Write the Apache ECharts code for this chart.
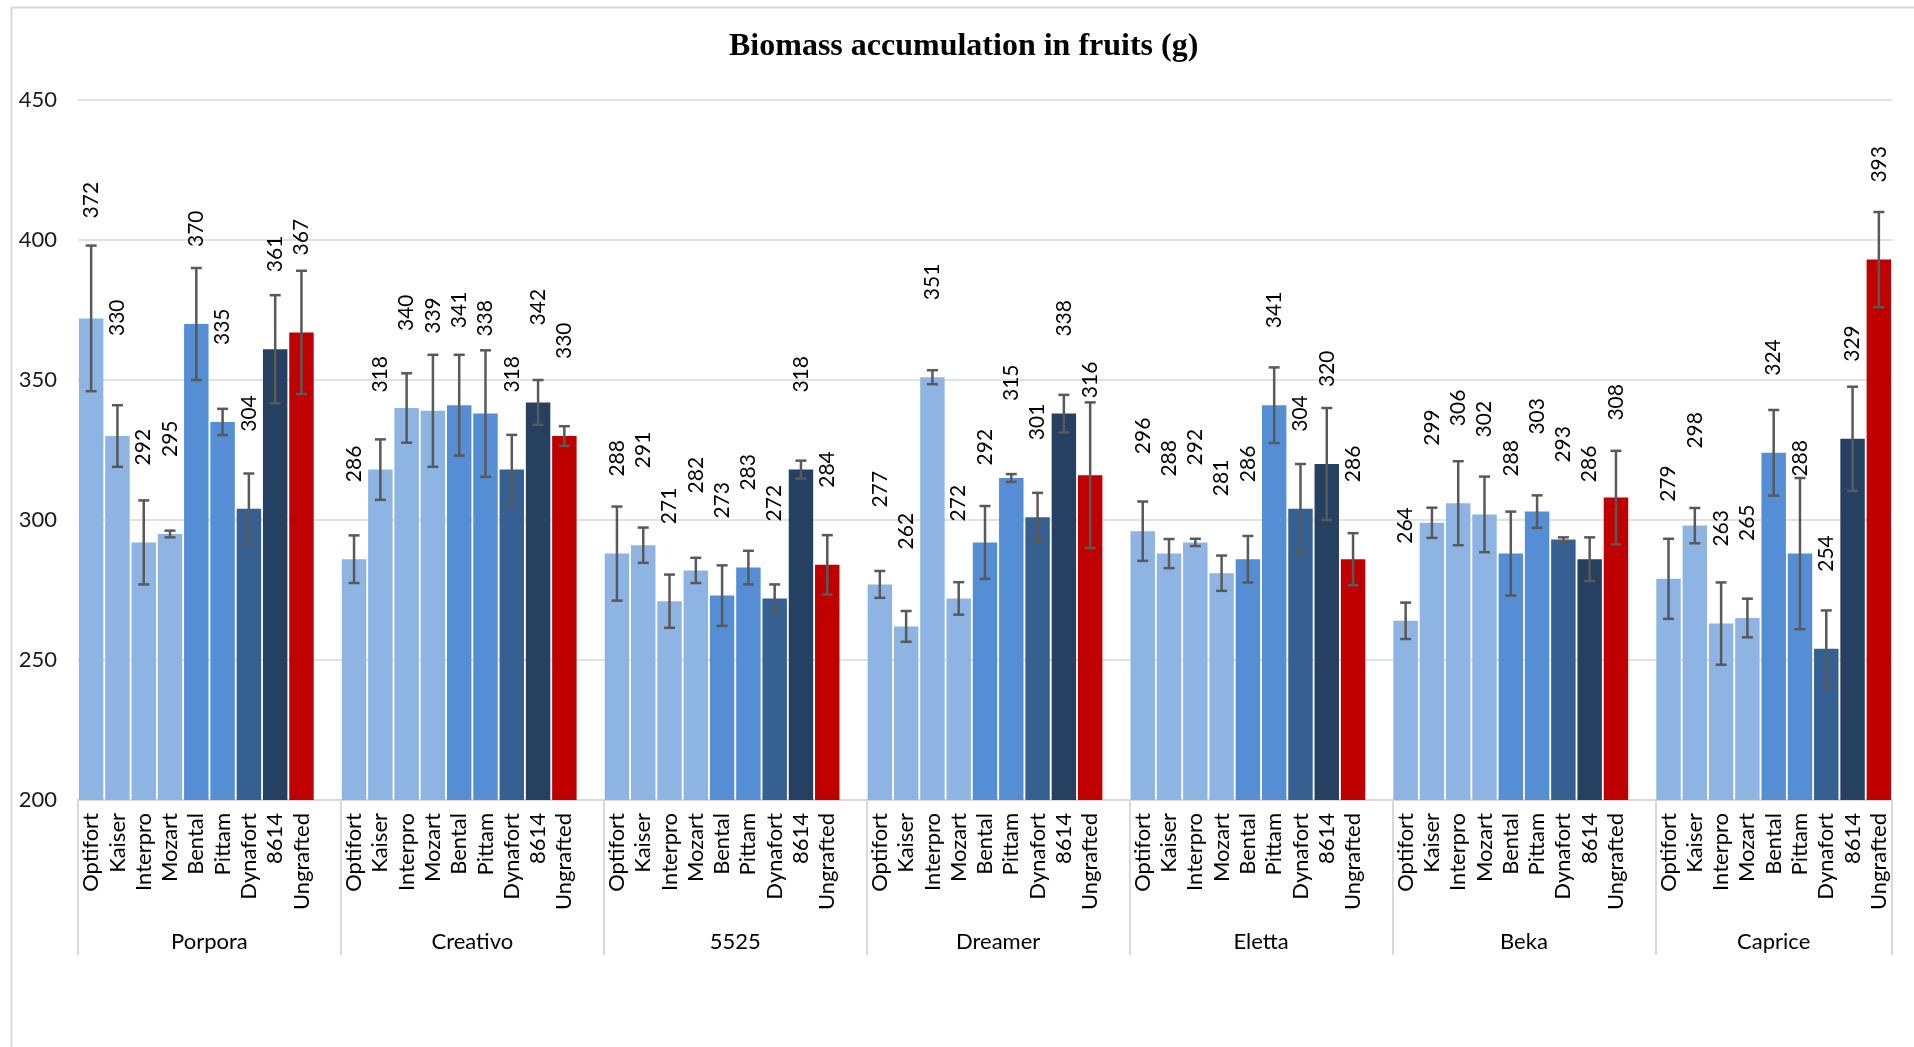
<!DOCTYPE html>
<html>
<head>
<meta charset="utf-8">
<script src="https://cdn.jsdelivr.net/npm/echarts@6/dist/echarts.min.js"></script>
<style>html,body{margin:0;padding:0;background:#fff;}#c{width:1914px;height:1047px;}</style>
</head>
<body>
<div id="c"></div>
<script>
const rootstocks = ['Optifort','Kaiser','Interpro','Mozart','Bental','Pittam','Dynafort','8614','Ungrafted'];
const groups = ['Porpora','Creativo','5525','Dreamer','Eletta','Beka','Caprice'];

const porpora  = [372,330,292,295,370,335,304,361,367];
const creativo = [286,318,340,339,341,338,318,342,330];
const v5525    = [288,291,271,282,273,283,272,318,284];
const dreamer  = [277,262,351,272,292,315,301,338,316];
const eletta   = [296,288,292,281,286,341,304,320,286];
const beka     = [264,299,306,302,288,303,293,286,308];
const caprice  = [279,298,263,265,324,288,254,329,393];

const errPorpora  = [26,11,15,1.2,20,4.7,12.6,19.3,22];
const errCreativo = [8.5,10.8,12.4,20,18,22.6,12.4,8,3.5];
const err5525     = [16.8,6.3,9.5,4.5,10.8,6,5,3.2,10.6];
const errDreamer  = [4.8,5.5,2.5,5.8,13,1.4,8.7,6.7,26];
const errEletta   = [10.6,5.2,1.3,6.3,8.3,13.5,16,20,9.3];
const errBeka     = [6.5,5.4,15,13.5,15,5.8,0.8,7.8,16.7];
const errCaprice  = [14.3,6.3,14.7,6.9,15.3,27,13.7,18.6,17];

const yTicks = [200,250,300,350,400,450];

const values = [porpora,creativo,v5525,dreamer,eletta,beka,caprice];
const errors = [errPorpora,errCreativo,err5525,errDreamer,errEletta,errBeka,errCaprice];

const colors = ['#8EB4E3','#8EB4E3','#8EB4E3','#8EB4E3','#558ED5','#558ED5','#376092','#254061','#C00000'];
// labels placed higher in the original for these (group, rootstock)
const raisedLabels = {'0-0':true,'0-1':true};

const cats = [], barData = [], errData = [];
const boundaries = [], centers = [];
groups.forEach((g, gi) => {
  boundaries.push(cats.length);
  const start = cats.length;
  rootstocks.forEach((r, ri) => {
    const idx = cats.length;
    cats.push(r);
    const item = {value: values[gi][ri], itemStyle: {color: colors[ri]}};
    if (raisedLabels[gi + '-' + ri]) item.label = {distance: 100};
    barData.push(item);
    errData.push([idx, values[gi][ri] - errors[gi][ri], values[gi][ri] + errors[gi][ri]]);
  });
  if (gi < groups.length - 1) { cats.push(''); barData.push('-'); }
  centers.push((start + cats.length) / 2);
});
boundaries.push(cats.length);

const chart = echarts.init(document.getElementById('c'));
const fontFam = 'Lato, "Open Sans", sans-serif';
chart.setOption({
  animation: false,
  backgroundColor: '#fff',
  title: {
    text: 'Biomass accumulation in fruits (g)',
    left: 724, top: 26,
    textStyle: {fontFamily: '"Liberation Serif", "Times New Roman", serif', fontWeight: 'bold', fontSize: 32, color: '#000'}
  },
  graphic: [{
    type: 'rect', left: 9, top: 5, silent: true,
    shape: {width: 1920, height: 1100},
    style: {fill: 'none', stroke: '#d9d9d9', lineWidth: 2}
  }],
  grid: {left: 78, right: 22, top: 100, bottom: 247, containLabel: false},
  xAxis: [{
    type: 'category', data: cats, boundaryGap: true,
    axisLine: {show: true, lineStyle: {color: '#d9d9d9', width: 2}},
    axisTick: {show: false},
    axisLabel: {interval: 0, rotate: 90, margin: 13, fontFamily: fontFam, fontSize: 22, color: '#000'}
  }, {
    type: 'value', min: 0, max: cats.length, position: 'bottom',
    axisLine: {show: false},
    splitLine: {show: false},
    axisTick: {show: true, customValues: boundaries, length: 155, lineStyle: {color: '#d9d9d9', width: 2}},
    axisLabel: {
      customValues: centers, margin: 131, fontFamily: fontFam, fontSize: 22, color: '#000',
      formatter: v => { const i = centers.indexOf(v); return i >= 0 ? groups[i] : ''; }
    }
  }],
  yAxis: {
    type: 'value', min: 200, max: 450, interval: 50,
    axisLine: {show: false}, axisTick: {show: false},
    splitLine: {lineStyle: {color: '#d9d9d9', width: 1.5}},
    axisLabel: {margin: 21, fontFamily: fontFam, fontSize: 22, color: '#1a1a1a',
      formatter: v => yTicks.includes(v) ? String(v) : ''}
  },
  series: [{
    type: 'bar', data: barData, barCategoryGap: '7%',
    label: {
      show: true, position: 'top', rotate: 90, distance: 77,
      align: 'left', verticalAlign: 'middle',
      fontFamily: fontFam, fontSize: 21, color: '#000',
      formatter: p => p.value
    }
  }, {
    type: 'custom', data: errData, z: 5,
    encode: {x: 0, y: [1, 2]},
    renderItem: (params, api) => {
      const x = api.value(0);
      const lo = api.coord([x, api.value(1)]);
      const hi = api.coord([x, api.value(2)]);
      const hw = 5.5;
      const st = {stroke: '#595959', lineWidth: 2.5};
      return {type: 'group', children: [
        {type: 'line', shape: {x1: lo[0], y1: lo[1], x2: hi[0], y2: hi[1]}, style: st},
        {type: 'line', shape: {x1: lo[0]-hw, y1: lo[1], x2: lo[0]+hw, y2: lo[1]}, style: st},
        {type: 'line', shape: {x1: hi[0]-hw, y1: hi[1], x2: hi[0]+hw, y2: hi[1]}, style: st}
      ]};
    }
  }]
});
</script>
</body>
</html>
